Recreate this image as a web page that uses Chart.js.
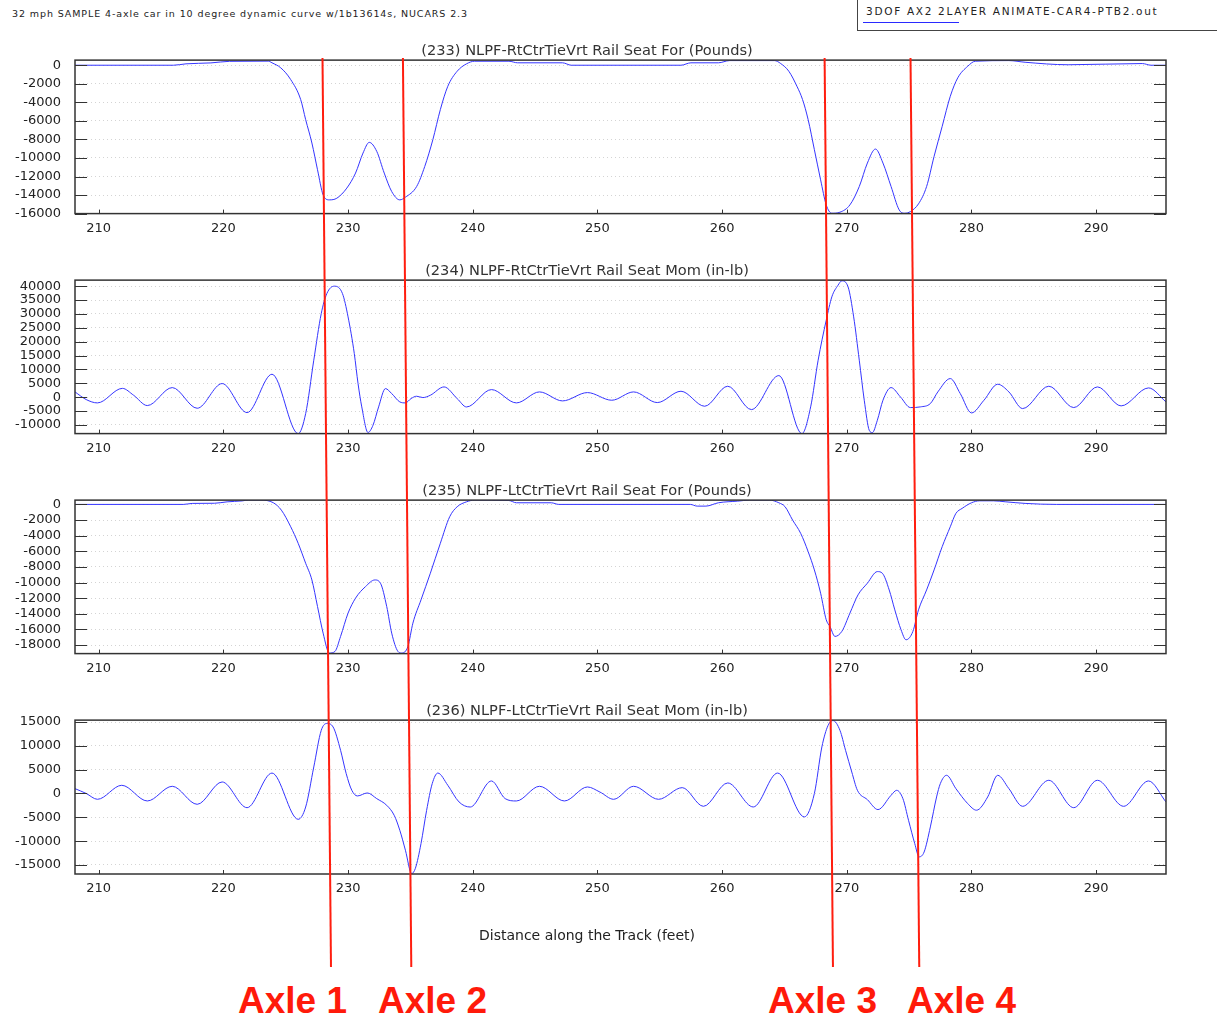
<!DOCTYPE html>
<html>
<head>
<meta charset="utf-8">
<script src="https://cdn.jsdelivr.net/npm/chart.js@4.4.1/dist/chart.umd.min.js"></script>
<style>
  html, body { margin: 0; padding: 0; background: #fff; }
  body { position: relative; width: 1217px; height: 1015px; overflow: hidden; font-family: "DejaVu Sans", sans-serif; }
  .run-title { position: absolute; left: 12px; top: 8px; font-size: 9.5px; letter-spacing: 0.9px; color: #222; white-space: nowrap; }
  .legend-box { position: absolute; left: 857px; top: -1px; width: 380px; height: 32px; border: 1px solid #444; box-sizing: border-box; }
  .legend-text { position: absolute; left: 8px; top: 5px; font-size: 10.5px; letter-spacing: 1.7px; color: #222; white-space: nowrap; }
  .legend-line { position: absolute; left: 5px; top: 22px; width: 96px; height: 0; border-top: 1px solid #2a2aff; }
  canvas { position: absolute; left: 0; }
  .axle { position: absolute; top: 980px; font: bold 37px "Liberation Sans", Arial, sans-serif; color: #ff1a0a; white-space: nowrap; }
</style>
</head>
<body>
<div class="run-title" id="run-title"></div>
<div class="legend-box"><span class="legend-text" id="legend-text"></span><span class="legend-line"></span></div>

<canvas id="c233" width="1217" height="220" style="top:25px"></canvas>
<canvas id="c234" width="1217" height="220" style="top:245px"></canvas>
<canvas id="c235" width="1217" height="220" style="top:465px"></canvas>
<canvas id="c236" width="1217" height="295" style="top:685px"></canvas>

<div class="axle" style="left:238px">Axle 1</div>
<div class="axle" style="left:378px">Axle 2</div>
<div class="axle" style="left:768px">Axle 3</div>
<div class="axle" style="left:907px">Axle 4</div>

<script>
/* ── Data ── */
const RUN_TITLE = '32 mph SAMPLE 4-axle car in 10 degree dynamic curve w/1b13614s, NUCARS 2.3';
const RUN_NAME  = '3DOF AX2 2LAYER ANIMATE-CAR4-PTB2.out';
const X_TITLE   = 'Distance along the Track (feet)';

const X_MIN = 208.1, X_MAX = 295.6;
const X_TICKS = [210, 220, 230, 240, 250, 260, 270, 280, 290];

const FORCE_R_TICKS = [-16000, -14000, -12000, -10000, -8000, -6000, -4000, -2000, 0];
const MOM_R_TICKS   = [-10000, -5000, 0, 5000, 10000, 15000, 20000, 25000, 30000, 35000, 40000];
const FORCE_L_TICKS = [-18000, -16000, -14000, -12000, -10000, -8000, -6000, -4000, -2000, 0];
const MOM_L_TICKS   = [-15000, -10000, -5000, 0, 5000, 10000, 15000];

// axle marker positions (feet) where the red lines cross the top and bottom of the figure
const AXLE_TOP_FT    = [227.95, 234.40, 268.22, 275.11];
const AXLE_BOTTOM_FT = [228.63, 235.07, 268.89, 275.81];

// (233) right rail seat force
const P233_X = [208.1, 216.0, 217.0, 219.0, 220.5, 223.6, 223.9, 224.6, 225.4, 226.2, 226.6, 227.1, 227.55, 228.0, 228.5,
  229.1, 229.9, 230.6, 231.2, 231.7, 232.3, 232.9, 233.5, 234.15, 234.6, 235.5, 236.15, 236.8, 237.4, 238.0, 238.75,
  239.5, 240.15, 242.9, 243.6, 247.2, 247.9, 256.7, 257.5, 259.7, 260.6, 264.2, 264.7, 265.35, 266.0, 266.45, 266.9,
  267.4, 267.9, 268.35, 268.8, 269.45, 270.25, 271.0, 271.65, 272.3, 272.9, 273.55, 274.2, 274.65, 275.1, 275.75,
  276.4, 277.0, 277.65, 278.3, 278.9, 279.7, 280.3, 283.0, 284.3, 287.75, 293.7, 294.4, 295.6];
const P233_Y = [0, 0, 150, 250, 420, 440, 260, -280, -1550, -3700, -5870, -8390, -11270, -13980, -14520,
  -14340, -13250, -11630, -9470, -8320, -9290, -11630, -13620, -14520, -14230, -13080, -10920, -8030, -4790, -2270, -650,
  150, 430, 430, 260, 260, 0, 0, 260, 260, 500, 500, 180, -650, -2270, -3700, -5870,
  -9110, -12360, -15060, -15960, -15850, -15060, -13080, -10550, -9040, -10550, -13080, -15600, -15960, -15780, -14950,
  -13080, -9830, -6590, -3350, -1360, -110, 430, 500, 320, 50, 180, 0, 0];

// (234) right rail seat moment
const P234_X = [208.1, 209.0, 209.9, 211.9, 212.8, 213.9, 215.9, 217.9, 219.9, 221.9, 223.9, 226.0, 226.6, 227.25,
  227.85, 228.3, 228.9, 229.55, 230.0, 230.5, 230.8, 231.1, 231.6, 232.0, 232.45, 233.0, 233.5, 234.15, 234.6, 235.05,
  235.5, 236.0, 236.6, 237.7, 238.75, 239.5, 241.5, 243.5, 245.35, 247.2, 249.2, 251.15, 252.9, 254.8, 256.7, 258.6,
  260.45, 262.35, 264.55, 266.4, 267.1, 267.7, 268.35, 268.8, 269.3, 269.6, 270.1, 270.55, 271.0, 271.4, 271.8, 272.05,
  272.45, 272.9, 273.55, 274.3, 275.1, 275.9, 276.7, 277.3, 278.3, 279.1, 280.0, 281.0, 282.1, 283.0, 284.1, 286.2,
  288.2, 290.1, 292.0, 294.2, 295.6];
const P234_Y = [1920, -840, -2040, 3200, 720, -3000, 3480, -3970, 4930, -5530, 8290, -13100, -5890, 13340,
  30160, 37370, 40020, 37370, 28960, 15740, 4930, -3480, -12700, -10090, -3480, 3120, 1320, -1680, -2040, -480,
  360, -120, 720, 3720, -480, -3500, 2760, -2040, 1920, -1320, 1680, -1080, 1920, -1920, 2160, -3240,
  3970, -4450, 7810, -13100, -3480, 13340, 27760, 36170, 40380, 41940, 39780, 28960, 13340, -1080, -11900, -12740,
  -8290, -1080, 3480, 120, -3720, -3480, -2280, 1920, 6730, 1320, -5650, -1080, 4690, 1920, -4090, 3970,
  -3720, 3720, -3120, 3360, -1680];

// (235) left rail seat force
const P235_X = [208.1, 216.8, 217.5, 219.3, 220.3, 221.5, 222.0, 223.0, 224.0, 224.65, 225.4, 226.0, 226.6, 227.1,
  227.55, 228.0, 228.5, 228.95, 229.4, 230.0, 230.6, 231.4, 232.15, 232.6, 233.1, 233.5, 234.0, 234.3, 234.8, 235.2,
  235.85, 236.6, 237.4, 238.15, 238.75, 239.5, 240.15, 242.9, 243.5, 246.3, 246.9, 257.45, 258.0, 258.7, 259.7,
  261.25, 262.2, 263.8, 264.55, 265.05, 265.65, 266.3, 266.9, 267.4, 267.9, 268.35, 268.65, 269.05, 269.6, 270.25,
  270.9, 271.65, 272.45, 272.85, 273.4, 273.85, 274.35, 274.75, 275.3, 275.75, 276.4, 277.0, 277.65, 278.3, 278.75,
  279.25, 280.0, 280.65, 281.75, 282.7, 284.3, 286.8, 295.6];
const P235_Y = [0, 0, 128, 150, 330, 450, 550, 550, 220, -730, -2860, -4980, -7540, -9670,
  -13070, -16480, -19030, -18820, -16900, -13920, -12000, -10520, -9670, -10090, -13070, -16480, -18820, -19030, -18180, -15200,
  -12220, -8810, -4980, -1580, -300, 330, 550, 500, 210, 210, 0, 0, -217, -217, 210,
  420, 550, 550, 210, -300, -2000, -3700, -6050, -8390, -11370, -14770, -15630, -16900, -16260, -13920,
  -11580, -10090, -8600, -8810, -10950, -13500, -16050, -17330, -16260, -13500, -10950, -8390, -5410, -2860, -1150,
  -510, 210, 460, 460, 340, 130, 0, 0];

// (236) left rail seat moment
const P236_X = [208.1, 209.0, 209.9, 211.85, 213.9, 215.9, 217.9, 219.9, 221.9, 223.9, 226.0, 226.6, 227.25, 227.85,
  228.3, 228.8, 229.4, 229.85, 230.3, 230.75, 231.55, 232.3, 233.1, 233.7, 234.15, 234.6, 235.1, 235.4, 235.85, 236.3,
  236.75, 237.2, 238.0, 238.9, 239.8, 241.5, 242.6, 243.5, 245.35, 247.35, 249.2, 250.2, 251.3, 252.9, 254.9, 256.8,
  258.5, 260.45, 262.5, 264.45, 266.6, 267.4, 268.0, 268.5, 268.9, 269.45, 269.9, 270.4, 270.85, 271.65, 272.5, 273.55,
  274.0, 274.5, 274.95, 275.45, 275.8, 276.2, 276.7, 277.2, 277.5, 278.0, 278.75, 279.7, 280.4, 281.3, 282.1, 283.0,
  284.1, 286.2, 288.2, 290.1, 292.2, 294.2, 295.6];
const P236_Y = [1020, 0, -1220, 1720, -1570, 1510, -2270, 2420, -2980, 4290, -5420, -2840, 5560, 13260,
  14700, 13960, 9060, 4170, 670, -520, 110, -1080, -2480, -4580, -7720, -11910, -16800, -15700, -10520, -3540,
  2070, 4290, 1720, -1780, -2840, 2630, -1080, -1570, 1510, -1570, 1370, 300, -1220, 1510, -1220, 1230,
  -2690, 2210, -2830, 4290, -4920, 0, 9760, 14300, 15300, 13260, 9060, 4500, 670, -1290, -3380, -380,
  670, -1080, -5620, -10520, -13300, -12280, -7020, -730, 2070, 3820, 1020, -2130, -3510, -730, 3820, 1020,
  -2690, 2770, -2980, 2770, -2690, 2630, -1780];

/* ── Style ── */
const LINE   = '#3535ff';
const FRAME  = '#333';
const GRID   = '#d4d4d4';
const RED    = '#ff1e0f';
const AXLE_FROM_Y = 58;   // page y where axle lines start
const AXLE_TO_Y   = 967;  // page y where axle lines end

Chart.defaults.font.family = '"DejaVu Sans", sans-serif';
Chart.defaults.font.size = 13;
Chart.defaults.color = '#222';

document.getElementById('run-title').textContent = RUN_TITLE;
document.getElementById('legend-text').textContent = RUN_NAME;

/* ── Box frame with inward ticks ── */
const framePlugin = {
  id: 'frame',
  afterDraw(chart) {
    const { ctx, chartArea: a, scales: { x, y } } = chart;
    ctx.save();
    ctx.strokeStyle = FRAME;
    ctx.lineWidth = 1;
    ctx.beginPath();
    y.ticks.forEach(t => {
      const py = Math.round(y.getPixelForValue(t.value)) + 0.5;
      ctx.moveTo(a.left, py);       ctx.lineTo(a.left + 12, py);
      ctx.moveTo(a.right - 12, py); ctx.lineTo(a.right, py);
    });
    x.ticks.forEach(t => {
      const px = Math.round(x.getPixelForValue(t.value)) + 0.5;
      ctx.moveTo(px, a.bottom); ctx.lineTo(px, a.bottom - 4);
    });
    ctx.stroke();
    ctx.lineWidth = 1.5;
    ctx.strokeRect(a.left, a.top, a.right - a.left, a.bottom - a.top);
    ctx.restore();
  },
};

/* ── Red axle lines running through every panel ── */
const axlePlugin = {
  id: 'axles',
  afterDraw(chart) {
    const { ctx, scales: { x } } = chart;
    const top = chart.canvas.getBoundingClientRect().top + window.scrollY;
    const y0 = Math.max(AXLE_FROM_Y - top, 0);
    const y1 = Math.min(AXLE_TO_Y - top, chart.height);
    if (y1 <= y0) return;
    ctx.save();
    ctx.strokeStyle = RED;
    ctx.lineWidth = 2;
    AXLE_TOP_FT.forEach((ft, i) => {
      const at = cy => {
        const f = (cy + top - AXLE_FROM_Y) / (AXLE_TO_Y - AXLE_FROM_Y);
        return x.getPixelForValue(ft + f * (AXLE_BOTTOM_FT[i] - ft));
      };
      ctx.beginPath();
      ctx.moveTo(at(y0), y0);
      ctx.lineTo(at(y1), y1);
      ctx.stroke();
    });
    ctx.restore();
  },
};

const fixedTicks = values => scale => { scale.ticks = values.map(v => ({ value: v })); };

/* ── One panel ── */
function drawPanel(id, title, xs, ys, yMin, yMax, yTicks, last) {
  new Chart(document.getElementById(id), {
    type: 'line',
    plugins: [framePlugin, axlePlugin],
    data: {
      datasets: [{
        label: RUN_NAME,
        data: xs.map((v, i) => ({ x: v, y: ys[i] })),
        borderColor: LINE,
        borderWidth: 1,
        pointRadius: 0,
        cubicInterpolationMode: 'monotone',
        fill: false,
      }],
    },
    options: {
      responsive: false,
      animation: false,
      events: [],
      layout: { padding: { left: 8, right: 51, top: 0, bottom: 0 } },
      plugins: {
        legend: { display: false },
        tooltip: { enabled: false },
        title: {
          display: true,
          text: title,
          color: '#333',
          font: { size: 14.6, weight: 'normal' },
          padding: { top: 17.3, bottom: 0.3 },
        },
        subtitle: {
          display: !!last,
          position: 'bottom',
          text: X_TITLE,
          color: '#222',
          font: { size: 14, weight: 'normal' },
          padding: { top: 22.2, bottom: 35.6 },
        },
      },
      scales: {
        x: {
          type: 'linear',
          min: X_MIN,
          max: X_MAX,
          grid: { display: false, drawTicks: false },
          border: { display: false },
          ticks: { autoSkip: false, maxRotation: 0, padding: 7, color: '#222', callback: v => String(v) },
          afterBuildTicks: fixedTicks(X_TICKS),
          afterFit: s => { s.height = 31.4; },
        },
        y: {
          min: yMin,
          max: yMax,
          grid: { color: GRID, drawTicks: false },
          border: { display: false, dash: [1, 3] },
          ticks: { autoSkip: false, padding: 14, color: '#222', callback: v => String(v) },
          afterBuildTicks: fixedTicks(yTicks),
          afterFit: s => { s.width = 67; },
        },
      },
    },
  });
}

drawPanel('c233', '(233) NLPF-RtCtrTieVrt Rail Seat For (Pounds)', P233_X, P233_Y, -16000, 550, FORCE_R_TICKS);
drawPanel('c234', '(234) NLPF-RtCtrTieVrt Rail Seat Mom (in-lb)',  P234_X, P234_Y, -13100, 42200, MOM_R_TICKS);
drawPanel('c235', '(235) NLPF-LtCtrTieVrt Rail Seat For (Pounds)', P235_X, P235_Y, -19100, 550, FORCE_L_TICKS);
drawPanel('c236', '(236) NLPF-LtCtrTieVrt Rail Seat Mom (in-lb)',  P236_X, P236_Y, -16900, 15400, MOM_L_TICKS, true);
</script>
</body>
</html>
